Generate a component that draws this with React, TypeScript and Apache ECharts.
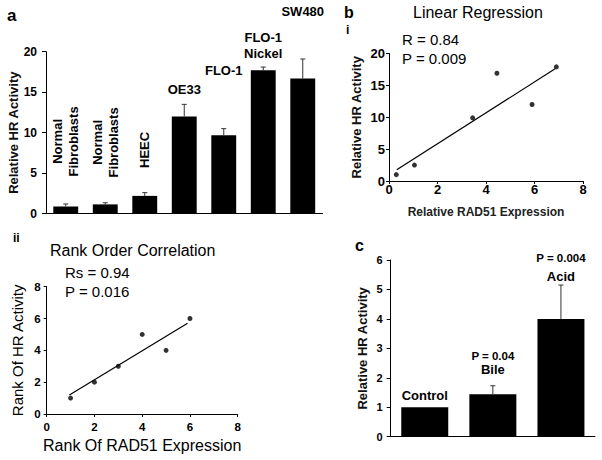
import React, { useEffect, useRef } from 'react';
import * as echarts from 'echarts';

// ---- Panel a: HR activity per cell line ----
const cellLinesA = ['Normal\nFibroblasts', 'Normal\nFibroblasts', 'HEEC', 'OE33', 'FLO-1', 'FLO-1\nNickel', 'SW480'];
const hrActivityA = [0.9, 1.15, 2.2, 12.0, 9.7, 17.7, 16.7];
const hrErrorA = [0.3, 0.2, 0.4, 1.5, 0.8, 0.4, 2.4];

// ---- Panel b(i): linear regression ----
const rad51ExpressionB = [0.3, 1.05, 3.45, 4.45, 5.9, 6.9];
const hrActivityB = [1.0, 2.5, 9.9, 16.9, 12.0, 17.9];
const fitLineBx = [0.32, 6.85];
const fitLineBy = [1.75, 17.6];

// ---- Panel b(ii): rank order correlation ----
const rankRad51 = [1, 2, 3, 4, 5, 6];
const rankHr = [1, 2, 3, 5, 4, 6];
const fitLineIIx = [0.95, 5.9];
const fitLineIIy = [1.19, 5.7];

// ---- Panel c: treatments ----
const treatmentsC = ['Control', 'Bile', 'Acid'];
const hrActivityC = [1.0, 1.44, 4.0];
const hrErrorC = [0, 0.29, 1.15];
const pValuesC = ['', 'P = 0.04', 'P = 0.004'];

const FONT = '"Liberation Sans", Arial, Helvetica, sans-serif';

const errorRender = (params: any, api: any) => {
  const i = api.value(0);
  const v = api.value(1);
  const t = api.value(2);
  if (!(t > v)) return { type: 'group', children: [] };
  const p0 = api.coord([i, v]);
  const p1 = api.coord([i, t]);
  const w = 2.5;
  const st = { stroke: '#333', lineWidth: 1 };
  return {
    type: 'group',
    children: [
      { type: 'line', shape: { x1: p0[0], y1: p0[1], x2: p1[0], y2: p1[1] }, style: st },
      { type: 'line', shape: { x1: p1[0] - w, y1: p1[1], x2: p1[0] + w, y2: p1[1] }, style: st },
    ],
  };
};

const axisLine = { show: true, lineStyle: { color: '#000', width: 1 } };

export default function App() {
  const ref = useRef<HTMLDivElement>(null);

  useEffect(() => {
    if (!ref.current) return;
    const chart = echarts.init(ref.current, null, { renderer: 'svg' });

    const labelLayoutA = [
      { rotate: 90, distance: 65 },
      { rotate: 90, distance: 62 },
      { rotate: 90, distance: 46 },
      { rotate: 0, distance: 19 },
      { rotate: 0, distance: 57 },
      { rotate: 0, distance: 9 },
      { rotate: 0, distance: 59 },
    ];

    const barDataA = hrActivityA.map((v, i) => ({
      value: v,
      label: {
        show: true,
        position: 'top',
        formatter: cellLinesA[i],
        rotate: labelLayoutA[i].rotate,
        distance: labelLayoutA[i].distance,
        align: 'center',
        verticalAlign: labelLayoutA[i].rotate ? 'middle' : 'bottom',
        lineHeight: 16,
        fontSize: 13,
        fontWeight: 'bold',
        fontFamily: FONT,
        color: '#000',
      },
    }));

    const labelLayoutC = [
      { distance: 5, pLine: 13 },
      { distance: 18, pLine: 14 },
      { distance: 36, pLine: 24 },
    ];

    const barDataC = hrActivityC.map((v, i) => ({
      value: v,
      label: {
        show: true,
        position: 'top',
        distance: labelLayoutC[i].distance,
        formatter: pValuesC[i] ? `{p|${pValuesC[i]}}\n{n|${treatmentsC[i]}}` : `{n|${treatmentsC[i]}}`,
        align: 'center',
        verticalAlign: 'bottom',
        rich: {
          p: { fontSize: 11.5, fontWeight: 'bold', fontFamily: FONT, color: '#000', lineHeight: labelLayoutC[i].pLine },
          n: { fontSize: 13, fontWeight: 'bold', fontFamily: FONT, color: '#000', lineHeight: 13 },
        },
      },
    }));

    const valueAxisLabel = (size: number, margin: number, bold = true) => ({
      fontSize: size,
      fontWeight: bold ? 'bold' : 'normal',
      fontFamily: FONT,
      color: '#000',
      margin,
    });

    const option: any = {
      animation: false,
      backgroundColor: '#fff',
      textStyle: { fontFamily: FONT },
      grid: [
        { left: 46, top: 51.7, width: 276.5, height: 162 },
        { left: 389, top: 53.5, width: 194, height: 127.5 },
        { left: 46.7, top: 286.7, width: 191, height: 127.3 },
        { left: 390.7, top: 260, width: 204.3, height: 176.7 },
      ],
      xAxis: [
        {
          gridIndex: 0, type: 'category', data: cellLinesA.map((c, i) => `${i}`),
          axisLine, axisTick: { show: false }, axisLabel: { show: false },
        },
        {
          gridIndex: 1, type: 'value', min: 0, max: 8, interval: 2,
          axisLine, splitLine: { show: false },
          axisTick: { show: true, length: 3, lineStyle: { color: '#000' } },
          axisLabel: valueAxisLabel(13, 2),
          name: 'Relative RAD51 Expression', nameLocation: 'middle', nameGap: 25,
          nameTextStyle: { fontSize: 12, fontWeight: 'bold', fontFamily: FONT, color: '#222' },
        },
        {
          gridIndex: 2, type: 'value', min: 0, max: 8, interval: 2,
          axisLine, splitLine: { show: false },
          axisTick: { show: true, length: 3, lineStyle: { color: '#000' } },
          axisLabel: valueAxisLabel(11.5, 7),
          name: 'Rank Of RAD51 Expression', nameLocation: 'middle', nameGap: 23,
          nameTextStyle: { fontSize: 16, fontFamily: FONT, color: '#000' },
        },
        {
          gridIndex: 3, type: 'category', data: treatmentsC,
          axisLine, axisTick: { show: false }, axisLabel: { show: false },
        },
      ],
      yAxis: [
        {
          gridIndex: 0, type: 'value', min: 0, max: 20, interval: 5,
          axisLine, splitLine: { show: false },
          axisTick: { show: true, length: 4, lineStyle: { color: '#000' } },
          axisLabel: valueAxisLabel(12, 9),
          name: 'Relative HR Activity', nameLocation: 'middle', nameGap: 21,
          nameTextStyle: { fontSize: 13, fontWeight: 'bold', fontFamily: FONT, color: '#111' },
        },
        {
          gridIndex: 1, type: 'value', min: 0, max: 20, interval: 5,
          axisLine, splitLine: { show: false },
          axisTick: { show: true, length: 3, lineStyle: { color: '#000' } },
          axisLabel: valueAxisLabel(13, 4),
          name: 'Relative HR Activity', nameLocation: 'middle', nameGap: 26,
          nameTextStyle: { fontSize: 13, fontWeight: 'bold', fontFamily: FONT, color: '#111' },
        },
        {
          gridIndex: 2, type: 'value', min: 0, max: 8, interval: 2,
          axisLine, splitLine: { show: false },
          axisTick: { show: true, length: 3, lineStyle: { color: '#000' } },
          axisLabel: valueAxisLabel(11.5, 6),
          name: 'Rank Of HR Activity', nameLocation: 'middle', nameGap: 21.5,
          nameTextStyle: { fontSize: 15, fontFamily: FONT, color: '#000' },
        },
        {
          gridIndex: 3, type: 'value', min: 0, max: 6, interval: 1,
          axisLine, splitLine: { show: false },
          axisTick: { show: true, length: 4, lineStyle: { color: '#000' } },
          axisLabel: valueAxisLabel(11, 8),
          name: 'Relative HR Activity', nameLocation: 'middle', nameGap: 21.5,
          nameTextStyle: { fontSize: 13, fontWeight: 'bold', fontFamily: FONT, color: '#111' },
        },
      ],
      series: [
        {
          type: 'bar', xAxisIndex: 0, yAxisIndex: 0, data: barDataA,
          barWidth: '63%', itemStyle: { color: '#000' },
        },
        {
          type: 'custom', xAxisIndex: 0, yAxisIndex: 0, z: 5,
          renderItem: errorRender,
          data: hrActivityA.map((v, i) => [i, v, v + hrErrorA[i]]),
        },
        {
          type: 'scatter', xAxisIndex: 1, yAxisIndex: 1, symbolSize: 5,
          itemStyle: { color: '#000' },
          data: rad51ExpressionB.map((x, i) => [x, hrActivityB[i]]),
        },
        {
          type: 'line', xAxisIndex: 1, yAxisIndex: 1, symbol: 'none',
          lineStyle: { color: '#000', width: 1.2 },
          data: fitLineBx.map((x, i) => [x, fitLineBy[i]]),
        },
        {
          type: 'scatter', xAxisIndex: 2, yAxisIndex: 2, symbolSize: 5,
          itemStyle: { color: '#000' },
          data: rankRad51.map((x, i) => [x, rankHr[i]]),
        },
        {
          type: 'line', xAxisIndex: 2, yAxisIndex: 2, symbol: 'none',
          lineStyle: { color: '#000', width: 1.2 },
          data: fitLineIIx.map((x, i) => [x, fitLineIIy[i]]),
        },
        {
          type: 'bar', xAxisIndex: 3, yAxisIndex: 3, data: barDataC,
          barWidth: '69%', itemStyle: { color: '#000' },
        },
        {
          type: 'custom', xAxisIndex: 3, yAxisIndex: 3, z: 5,
          renderItem: errorRender,
          data: hrActivityC.map((v, i) => [i, v, v + hrErrorC[i]]),
        },
      ],
      graphic: [
        { type: 'text', x: 7, y: 15, style: { text: 'a', fontSize: 17, fontWeight: 'bold', fontFamily: FONT, fill: '#000', verticalAlign: 'middle' } },
        { type: 'text', x: 344, y: 12, style: { text: 'b', fontSize: 16, fontWeight: 'bold', fontFamily: FONT, fill: '#000', verticalAlign: 'middle' } },
        { type: 'text', x: 346, y: 29.5, style: { text: 'i', fontSize: 12, fontWeight: 'bold', fontFamily: FONT, fill: '#000', verticalAlign: 'middle' } },
        { type: 'text', x: 413, y: 12.5, style: { text: 'Linear Regression', fontSize: 16, fontFamily: FONT, fill: '#000', verticalAlign: 'middle' } },
        { type: 'text', x: 402, y: 39, style: { text: 'R = 0.84', fontSize: 15, fontFamily: FONT, fill: '#000', verticalAlign: 'middle' } },
        { type: 'text', x: 402, y: 58, style: { text: 'P = 0.009', fontSize: 15, fontFamily: FONT, fill: '#000', verticalAlign: 'middle' } },
        { type: 'text', x: 13, y: 238, style: { text: 'ii', fontSize: 12, fontWeight: 'bold', fontFamily: FONT, fill: '#000', verticalAlign: 'middle' } },
        { type: 'text', x: 50, y: 250, style: { text: 'Rank Order Correlation', fontSize: 16, fontFamily: FONT, fill: '#000', verticalAlign: 'middle' } },
        { type: 'text', x: 65, y: 272.5, style: { text: 'Rs = 0.94', fontSize: 15, fontFamily: FONT, fill: '#000', verticalAlign: 'middle' } },
        { type: 'text', x: 65, y: 291, style: { text: 'P = 0.016', fontSize: 15, fontFamily: FONT, fill: '#000', verticalAlign: 'middle' } },
        { type: 'text', x: 355, y: 245, style: { text: 'c', fontSize: 16, fontWeight: 'bold', fontFamily: FONT, fill: '#000', verticalAlign: 'middle' } },
      ],
    };

    chart.setOption(option);
    return () => chart.dispose();
  }, []);

  return <div ref={ref} style={{ position: 'absolute', left: 0, top: 0, width: 602, height: 460 }} />;
}
